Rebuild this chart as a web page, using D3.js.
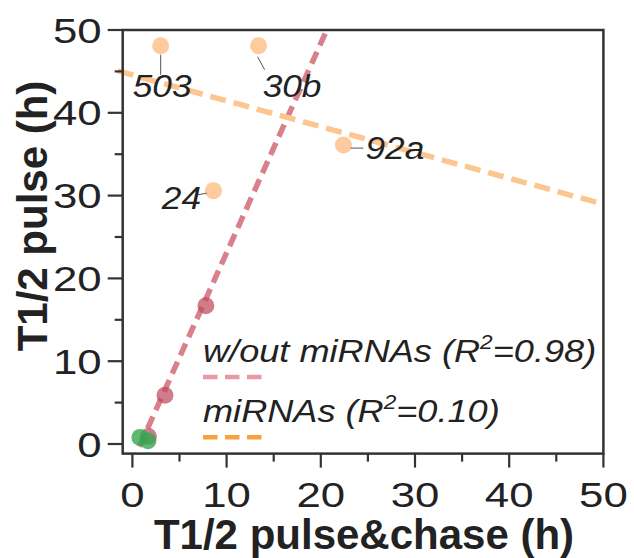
<!DOCTYPE html>
<html>
<head>
<meta charset="utf-8">
<script src="https://cdn.jsdelivr.net/npm/d3@7"></script>
<style>
  body { margin: 0; background: #fff; }
  svg { display: block; }
  text { font-family: "Liberation Sans", Arial, Helvetica, sans-serif; fill: #222; }
</style>
</head>
<body>
<div id="chart"></div>
<script>
// DATA
////////////////////////////
// miRNA points (orange) with their labels
var mirX = [3.0, 13.4, 22.4, 8.6],
    mirY = [48.1, 48.1, 36.1, 30.6],
    mirLabels = ["503", "30b", "92a", "24"];

// points w/out miRNAs (red) and the few green ones near the origin
var woX = [7.8, 3.46, 1.7],
    woY = [16.7, 5.9, 0.9];
var greenX = [0.8, 1.65],
    greenY = [0.8, 0.4];

// fitted lines: slope, intercept
var woFit = [2.53, -2.2],
    mirFit = [-0.312, 44.57];

var xTicks = [0, 10, 20, 30, 40, 50],
    yTicks = [0, 10, 20, 30, 40, 50],
    minorTicks = [5, 15, 25, 35, 45];

var legendLabels = ["w/out miRNAs (R", "miRNAs (R"],
    legendR2 = ["=0.98)", "=0.10)"];

// SETUP
////////////////////////////
var width = 634,
    height = 558;

var svg = d3.select("#chart").append("svg")
    .attr("width", width)
    .attr("height", height);

// plot frame in px  (don't call it "top" - clashes with window.top)
var frameL = 122.7, frameR = 603.4, frameT = 30, frameB = 453.6;

var x = d3.scaleLinear().domain([0, 50]).range([132.4, 603.4]);
var y = d3.scaleLinear().domain([0, 50]).range([444, 30]);

// the reference font is wider than Liberation Sans, so regular text is stretched a bit
function place(sel, px, py, sx) {
  return sel.attr("transform", "translate(" + px + "," + py + ") scale(" + sx + ",1)");
}

svg.append("clipPath").attr("id", "plotclip")
  .append("rect")
    .attr("x", frameL - 8).attr("y", frameT)
    .attr("width", frameR - frameL + 8).attr("height", frameB - frameT);

var plot = svg.append("g").attr("clip-path", "url(#plotclip)");

// FIT LINES
////////////////////////////
var line = d3.line().x(function(d) { return x(d[0]); }).y(function(d) { return y(d[1]); });

var woPts = [-1, 22].map(function(v) { return [v, woFit[0] * v + woFit[1]]; });
plot.append("path")
    .attr("d", line(woPts))
    .attr("fill", "none")
    .attr("stroke", "#d9808d")
    .attr("stroke-width", 5.5)
    .attr("stroke-dasharray", "13,7");

var mirPts = [-1.55, 50].map(function(v) { return [v, mirFit[0] * v + mirFit[1]]; });
plot.append("path")
    .attr("d", line(mirPts))
    .attr("fill", "none")
    .attr("stroke", "#fcc68e")
    .attr("stroke-width", 5.5)
    .attr("stroke-dasharray", "16,8");

// POINTS
////////////////////////////
var r = 8.5;

plot.selectAll(".mir").data(d3.range(mirX.length)).enter()
  .append("circle")
    .attr("class", "mir")
    .attr("cx", function(i) { return x(mirX[i]); })
    .attr("cy", function(i) { return y(mirY[i]); })
    .attr("r", r)
    .attr("fill", "#fdcb9d");

plot.selectAll(".wo").data(d3.range(woX.length)).enter()
  .append("circle")
    .attr("class", "wo")
    .attr("cx", function(i) { return x(woX[i]); })
    .attr("cy", function(i) { return y(woY[i]); })
    .attr("r", r)
    .attr("fill", "#bf4a5e")
    .attr("fill-opacity", 0.72);

plot.selectAll(".green").data(d3.range(greenX.length)).enter()
  .append("circle")
    .attr("class", "green")
    .attr("cx", function(i) { return x(greenX[i]); })
    .attr("cy", function(i) { return y(greenY[i]); })
    .attr("r", r)
    .attr("fill", "#35a84f")
    .attr("fill-opacity", 0.8);

// POINT LABELS (offsets from point, px)
////////////////////////////
var labelOffsets = [[-28, 51], [4, 51], [22, 14], [-51.6, 18.6]];
var leaderOffsets = [[0, 9, 0, 29], [-1, 11, 6, 24], [7, 3, 20, 3], [-16.6, 4.3, -6.6, 2.6]];

mirLabels.forEach(function(lab, i) {
  var px = x(mirX[i]), py = y(mirY[i]);
  var l = leaderOffsets[i];
  svg.append("line")
      .attr("x1", px + l[0]).attr("y1", py + l[1])
      .attr("x2", px + l[2]).attr("y2", py + l[3])
      .attr("stroke", "#555").attr("stroke-width", 1);
  place(svg.append("text"), px + labelOffsets[i][0], py + labelOffsets[i][1], 1.12)
      .attr("font-size", 31.5)
      .attr("font-style", "italic")
      .text(lab);
});

// FRAME & AXES
////////////////////////////
svg.append("rect")
    .attr("x", frameL).attr("y", frameT)
    .attr("width", frameR - frameL).attr("height", frameB - frameT)
    .attr("fill", "none")
    .attr("stroke", "#333")
    .attr("stroke-width", 2.5);

var axisG = svg.append("g").attr("stroke", "#333").attr("stroke-width", 2.2);

xTicks.forEach(function(t) {
  axisG.append("line").attr("x1", x(t)).attr("x2", x(t)).attr("y1", frameB).attr("y2", frameB + 14);
});
minorTicks.forEach(function(t) {
  axisG.append("line").attr("x1", x(t)).attr("x2", x(t)).attr("y1", frameB).attr("y2", frameB + 8);
});
yTicks.forEach(function(t) {
  axisG.append("line").attr("x1", frameL).attr("x2", frameL - 15).attr("y1", y(t)).attr("y2", y(t));
});
minorTicks.forEach(function(t) {
  axisG.append("line").attr("x1", frameL).attr("x2", frameL - 8).attr("y1", y(t)).attr("y2", y(t));
});

xTicks.forEach(function(t) {
  place(svg.append("text"), x(t), 507, 1.25)
      .attr("font-size", 35)
      .attr("text-anchor", "middle")
      .text(t);
});
yTicks.forEach(function(t) {
  place(svg.append("text"), 101.7, y(t) + 12.5, 1.25)
      .attr("font-size", 35)
      .attr("text-anchor", "end")
      .text(t);
});

svg.append("text")
    .attr("x", 364).attr("y", 549)
    .attr("font-size", 42)
    .attr("font-weight", "bold")
    .attr("text-anchor", "middle")
    .attr("fill", "#111")
    .text("T1/2 pulse&chase (h)");

svg.append("text")
    .attr("transform", "translate(47,216) rotate(-90)")
    .attr("font-size", 42)
    .attr("font-weight", "bold")
    .attr("text-anchor", "middle")
    .attr("fill", "#111")
    .text("T1/2 pulse (h)");

// LEGEND
////////////////////////////
var legendBase = [362, 421.7],
    legendDashY = [377, 437.3],
    legendColors = ["#e59aa6", "#f7a23c"];

legendLabels.forEach(function(lab, i) {
  var t = place(svg.append("text"), 203, legendBase[i], 1.13)
      .attr("font-size", 32)
      .attr("font-style", "italic");
  t.append("tspan").text(lab);
  t.append("tspan").attr("font-size", 20).attr("dy", -13).text("2");
  t.append("tspan").attr("dy", 13).text(legendR2[i]);

  svg.append("line")
      .attr("x1", 203).attr("x2", 262)
      .attr("y1", legendDashY[i]).attr("y2", legendDashY[i])
      .attr("stroke", legendColors[i])
      .attr("stroke-width", 4.5)
      .attr("stroke-dasharray", "14.5,7.5");
});
</script>
</body>
</html>
